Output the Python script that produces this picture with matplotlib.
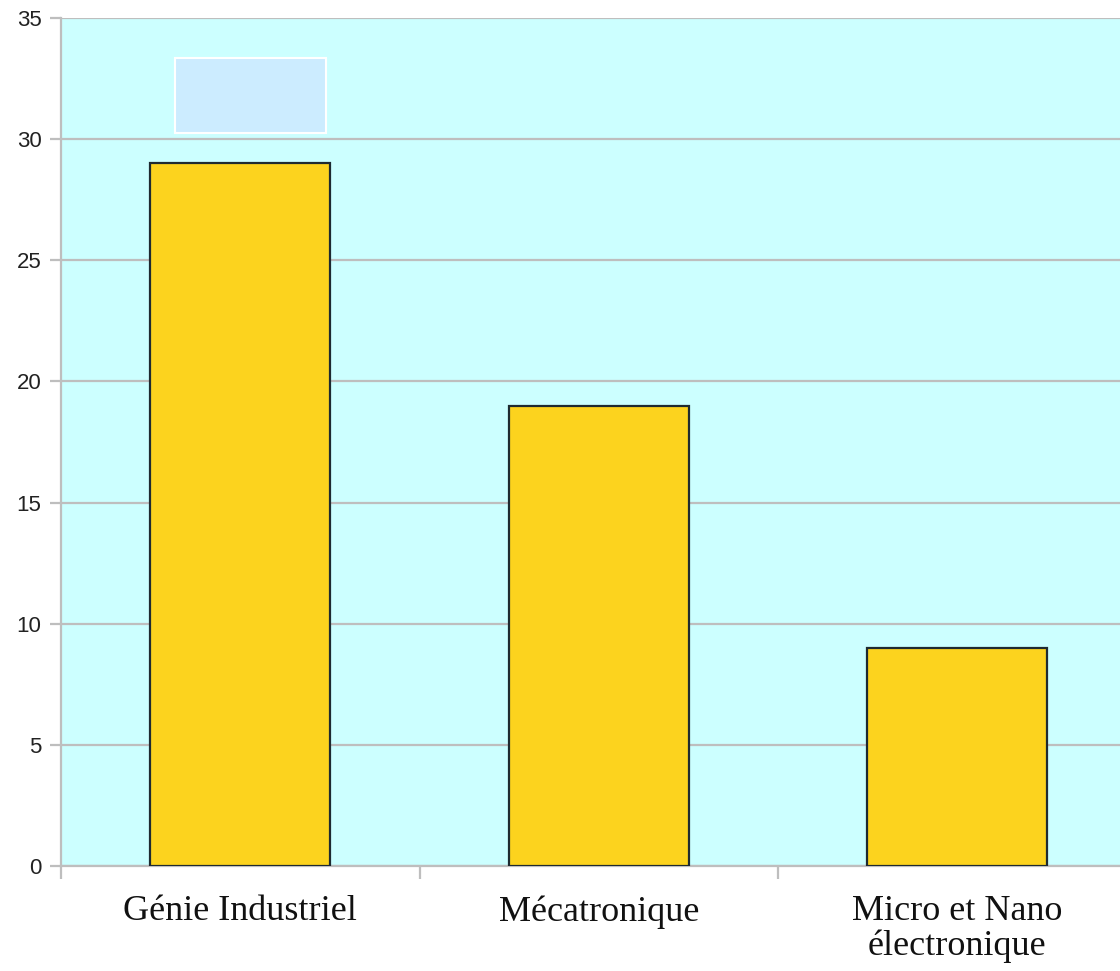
import matplotlib
matplotlib.use("Agg")
import matplotlib.pyplot as plt
from matplotlib.patches import Rectangle
from matplotlib.ticker import FixedLocator, NullFormatter

categories = ["Génie Industriel", "Mécatronique", "Micro et Nano\nélectronique"]
values = [29, 19, 9]
y_ticks = [0, 5, 10, 15, 20, 25, 30, 35]

fig = plt.figure(figsize=(11.2, 9.71), dpi=100)
ax = fig.add_axes([61/1120, 1 - 866/971, 1 - 61/1120, (866 - 18)/971])
ax.set_facecolor("#CCFFFF")

x = list(range(len(categories)))
ax.bar(x, values, width=0.502, color="#FCD31E", edgecolor="#1E2A30", linewidth=1.6, zorder=3)

ax.set_ylim(0, 35)
ax.set_xlim(-0.5, -0.5 + (1120 - 61) / 358.5)
ax.set_yticks(y_ticks)
ax.set_yticklabels([str(v) for v in y_ticks], fontfamily="Liberation Sans", fontsize=16)
ax.yaxis.grid(True, color="#BEBEBE", linewidth=1.6, zorder=1)
ax.set_axisbelow(True)

# decorative empty box
ax.add_patch(Rectangle((-0.182, 30.25), 0.421, 3.1, facecolor="#CCECFF",
                       edgecolor="white", linewidth=1.5, zorder=2))

for s in ["top", "right"]:
    ax.spines[s].set_visible(False)
ax.spines["left"].set_color("#BEBEBE")
ax.spines["left"].set_linewidth(1.6)
ax.spines["bottom"].set_color("#BEBEBE")
ax.spines["bottom"].set_linewidth(1.6)

ax.set_xticks(x)
ax.set_xticklabels(categories, fontfamily="Liberation Serif", fontsize=26,
                   linespacing=1.05, color="#111111")
ax.tick_params(axis="x", which="major", length=0, pad=21)
ax.xaxis.set_minor_locator(FixedLocator([-0.5, 0.5, 1.5]))
ax.xaxis.set_minor_formatter(NullFormatter())
ax.tick_params(axis="x", which="minor", length=9, width=1.6, color="#BEBEBE")
ax.tick_params(axis="y", length=8, width=1.6, color="#BEBEBE",
               labelcolor="#222222", pad=6)

fig.savefig("out.png", dpi=100, facecolor="white")
